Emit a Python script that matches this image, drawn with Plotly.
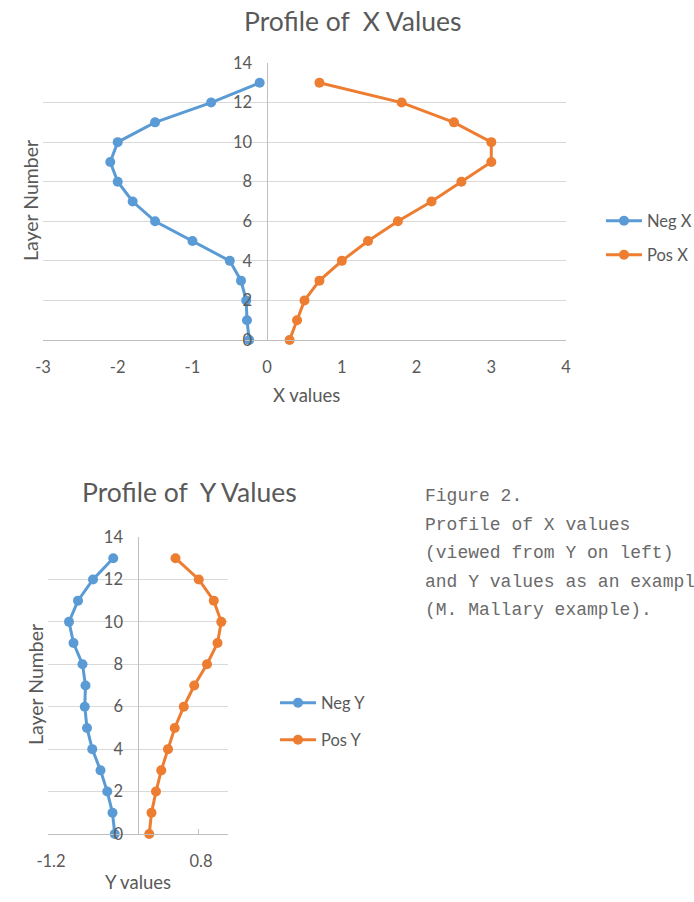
import plotly.graph_objects as go

W, H = 694, 902

layers = [0, 1, 2, 3, 4, 5, 6, 7, 8, 9, 10, 11, 12, 13]
neg_x = [-0.24, -0.27, -0.28, -0.35, -0.5, -1.0, -1.5, -1.8, -2.0, -2.1, -2.0, -1.5, -0.75, -0.1]
pos_x = [0.3, 0.4, 0.5, 0.7, 1.0, 1.35, 1.75, 2.2, 2.6, 3.0, 3.0, 2.5, 1.8, 0.7]
neg_y = [-0.31, -0.34, -0.41, -0.5, -0.61, -0.68, -0.71, -0.7, -0.74, -0.86, -0.92, -0.8, -0.6, -0.33]
pos_y = [0.15, 0.18, 0.24, 0.31, 0.4, 0.49, 0.61, 0.75, 0.92, 1.06, 1.11, 1.01, 0.81, 0.5]

top_x_ticks = [-3, -2, -1, 0, 1, 2, 3, 4]
top_x_labels = ["-3", "-2", "-1", "0", "1", "2", "3", "4"]
bot_x_ticks = [-1.2, 0.8]
bot_x_labels = ["-1.2", "0.8"]

caption = [
    "Figure 2.",
    "Profile of X values",
    "(viewed from Y on left)",
    "and Y values as an example",
    "(M. Mallary example).",
]

BLUE = "#5b9bd5"
ORANGE = "#ed7d31"
GRID = "#d9d9d9"
AXIS = "#bfbfbf"
TXT = "#595959"
FONT = "Lato"

def px(x):
    return x / W

def py(y):
    return 1 - y / H

fig = go.Figure()

def add(x, y, name, color, xa, ya, leg):
    fig.add_trace(go.Scatter(
        x=x, y=y, name=name, mode="lines+markers",
        line=dict(color=color, width=3),
        marker=dict(color=color, size=10),
        xaxis=xa, yaxis=ya, legend=leg, cliponaxis=False,
    ))

add(neg_x, layers, "Neg X", BLUE, "x", "y", "legend")
add(pos_x, layers, "Pos X", ORANGE, "x", "y", "legend2")
add(neg_y, layers, "Neg Y", BLUE, "x2", "y2", "legend3")
add(pos_y, layers, "Pos Y", ORANGE, "x2", "y2", "legend4")

tickfont = dict(family=FONT, size=16.5, color=TXT)

# plot-area geometry (pixels)
t_l, t_r, t_t, t_b = 43, 566, 63, 340
b_l, b_r, b_t, b_b = 48, 228, 537, 834

top_zero = t_l + (0 - (-3)) / 7 * (t_r - t_l)
bot_zero = b_l + (0 - (-1.2)) / 2.4 * (b_r - b_l)

common_x = dict(showgrid=False, zeroline=True, zerolinecolor=AXIS, zerolinewidth=1,
                tickfont=tickfont, showline=True, linecolor=AXIS, linewidth=1,
                ticklabelstandoff=12, fixedrange=True, automargin=False, tickmode="array")
common_y = dict(range=[0, 14], dtick=2, tick0=0, showgrid=True, gridcolor=GRID, gridwidth=1,
                zeroline=False, showline=False, tickfont=tickfont, anchor="free",
                ticklabelstandoff=15, fixedrange=True, automargin=False)

legend_common = dict(font=dict(family=FONT, size=16.5, color=TXT), bgcolor="rgba(0,0,0,0)",
                     xanchor="left", yanchor="middle", itemwidth=36, borderwidth=0)

fig.update_layout(
    template="none",
    width=W, height=H, autosize=False,
    margin=dict(l=0, r=0, t=0, b=0, autoexpand=False),
    paper_bgcolor="white", plot_bgcolor="white",
    font=dict(family=FONT, color=TXT),
    xaxis=dict(domain=[px(t_l), px(t_r)], range=[-3, 4], tickvals=top_x_ticks, ticktext=top_x_labels,
               anchor="y", ticks="", **common_x),
    yaxis=dict(domain=[py(t_b), py(t_t)], position=px(top_zero), ticks="", **common_y),
    xaxis2=dict(domain=[px(b_l), px(b_r)], range=[-1.2, 1.2], tickvals=bot_x_ticks, ticktext=bot_x_labels,
                anchor="y2", ticks="inside", ticklen=5, tickcolor=AXIS, ticklabelshift=3, **common_x),
    yaxis2=dict(domain=[py(b_b), py(b_t)], position=px(bot_zero), ticks="", **common_y),
    legend=dict(x=px(601), y=py(221), **legend_common),
    legend2=dict(x=px(601), y=py(255), **legend_common),
    legend3=dict(x=px(275), y=py(703), **legend_common),
    legend4=dict(x=px(275), y=py(740), **legend_common),
    showlegend=True,
)

ann = []
def a(text, x, y, size, angle=0, family=FONT, color=TXT, xanchor="center"):
    ann.append(dict(text=text, x=px(x), y=py(y), xref="paper", yref="paper", showarrow=False,
                    font=dict(family=family, size=size, color=color), textangle=angle,
                    xanchor=xanchor, yanchor="middle"))

a("Profile of  X Values", 353, 21, 26.5)
a("Profile of  Y Values", 190, 492, 26.5)
a("X values", 306, 395, 18.5)
a("Y values", 138, 882, 18.5)
a("Layer Number", 30, 201, 19.5, angle=-90)
a("Layer Number", 35, 685, 19.5, angle=-90)

for i, line in enumerate(caption):
    a(line, 423, 496 + i * 28.5, 18, family="Liberation Mono", color="#6a6a6a", xanchor="left")

fig.update_layout(annotations=ann)

fig.write_html(
    "out.html",
    config={"displayModeBar": False},
    post_script="document.body.style.margin='0';document.body.style.overflow='hidden';",
)
